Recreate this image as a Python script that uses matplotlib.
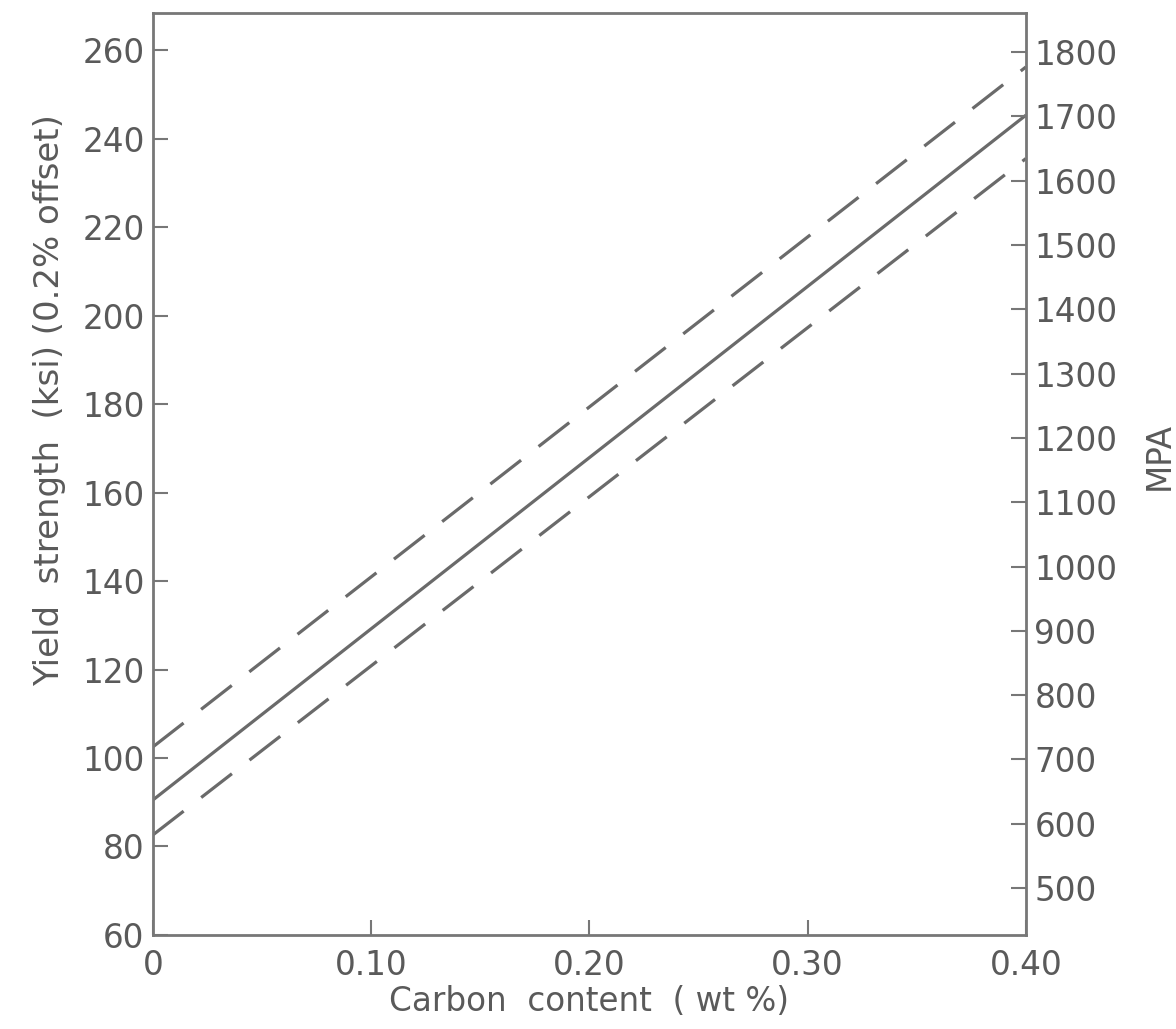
import matplotlib
matplotlib.use("Agg")
import matplotlib.pyplot as plt

# Data
carbon = [0.0, 0.40]
ys_mean = [90.5, 245.3]
ys_upper = [102.5, 256.2]
ys_lower = [82.6, 235.5]

x_ticks = [0.0, 0.10, 0.20, 0.30, 0.40]
x_labels = ["0", "0.10", "0.20", "0.30", "0.40"]
ksi_ticks = [60, 80, 100, 120, 140, 160, 180, 200, 220, 240, 260]
mpa_ticks = [500, 600, 700, 800, 900, 1000, 1100, 1200, 1300, 1400, 1500, 1600, 1700, 1800]

plt.rcParams['lines.scale_dashes'] = False
plt.rcParams['font.family'] = ['DejaVu Sans']

txt = '#5a5a5a'
linec = '#6a6a6a'
spinec = '#777777'
fs = 23.5

fig = plt.figure(figsize=(11.76, 10.29), dpi=100)
ax = fig.add_axes([0.130, 0.0914, 0.7424, 0.896])

ax.plot(carbon, ys_mean, color=linec, lw=2.3, solid_capstyle='butt')
for ys in (ys_upper, ys_lower):
    l, = ax.plot(carbon, ys, color=linec, lw=2.3, solid_capstyle='butt')
    l.set_dashes((28, 16))

ax.set_xlim(0, 0.40)
ax.set_ylim(60, 268.4)
ax.set_xticks(x_ticks)
ax.set_xticklabels(x_labels)
ax.set_yticks(ksi_ticks)

for s in ax.spines.values():
    s.set_color(spinec)
    s.set_linewidth(2)

ax.tick_params(axis='both', direction='in', length=11, width=1.5, color=spinec,
               labelsize=fs, labelcolor=txt, pad=6)
ax.tick_params(axis='x', pad=10)
ax.tick_params(axis='y', right=False)

ax2 = ax.twinx()
ax2.set_ylim(427, 1861)
ax2.set_yticks(mpa_ticks)
ax2.tick_params(axis='y', direction='in', length=11, width=1.5, color=spinec,
                labelsize=fs, labelcolor=txt, pad=6)
for s in ax2.spines.values():
    s.set_visible(False)

ax.set_xlabel("Carbon  content  ( wt %)", fontsize=fs, color=txt)
ax.xaxis.set_label_coords(0.5, -0.054)
ax.set_ylabel("Yield  strength  (ksi) (0.2% offset)", fontsize=fs + 1, color=txt)
ax.yaxis.set_label_coords(-0.100, 0.58)
ax2.set_ylabel("MPA", fontsize=fs, color=txt)
ax2.yaxis.set_label_coords(1.134, 0.52)

fig.savefig("out.png", dpi=100, facecolor='white')
